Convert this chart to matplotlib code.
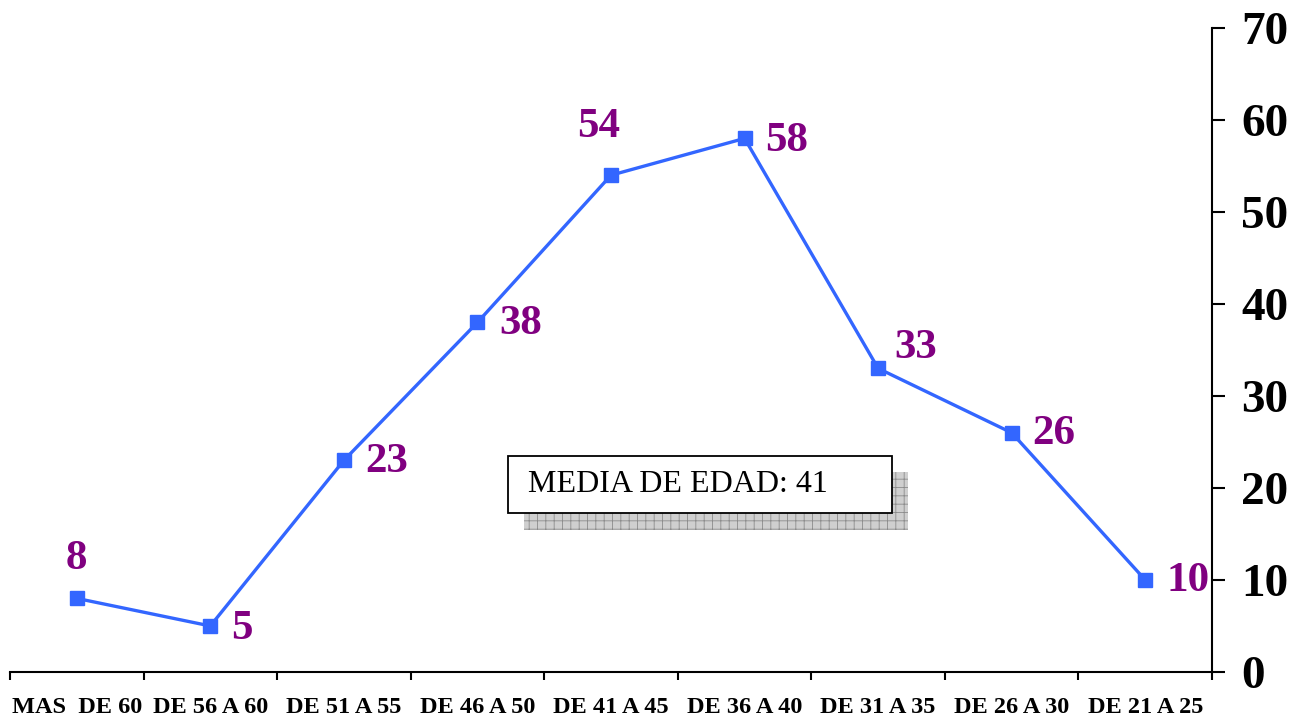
import matplotlib.pyplot as plt
from matplotlib.patches import Rectangle

# age groups and number of people
categories = ['MAS  DE 60', 'DE 56 A 60', 'DE 51 A 55', 'DE 46 A 50', 'DE 41 A 45',
              'DE 36 A 40', 'DE 31 A 35', 'DE 26 A 30', 'DE 21 A 25']
values = [8, 5, 23, 38, 54, 58, 33, 26, 10]
y_ticks = [0, 10, 20, 30, 40, 50, 60, 70]
mean_text = 'MEDIA DE EDAD: 41'

# where each value label goes, in points from its marker
label_offsets = [(0, 28), (23, -2), (31, -1), (31, -1), (-9, 35),
                 (30, -2), (27, 15), (30, -1), (31, -1)]

plt.rcParams['font.family'] = ['Liberation Serif', 'DejaVu Serif']

fig = plt.figure(figsize=(12.93, 7.22), dpi=100)
ax = fig.add_axes([0.0077, 0.0693, 0.9297, 0.8919])

x = list(range(len(categories)))
ax.plot(x, values, color='#3366ff', lw=2.4, marker='s', markersize=9.5, zorder=3)

for xi, v, off in zip(x, values, label_offsets):
    ax.annotate(str(v), (xi, v), xytext=off, textcoords='offset points',
                ha='center', va='center', fontsize=31, fontweight='bold', color='#800080')

ax.set_xlim(-0.5, len(categories) - 0.5)
ax.set_ylim(0, 70)

ax.spines['left'].set_visible(False)
ax.spines['top'].set_visible(False)
ax.spines['right'].set_linewidth(1.5)
ax.spines['bottom'].set_linewidth(1.5)

ax.yaxis.tick_right()
ax.set_yticks(y_ticks)
ax.tick_params(axis='y', direction='out', length=9, width=1.5, pad=12, labelsize=34)
for t in ax.get_yticklabels():
    t.set_fontweight('bold')

ax.set_xticks(x)
ax.set_xticklabels(categories, fontsize=17.5, fontweight='bold')
ax.set_xticks([i - 0.5 for i in range(len(categories) + 1)], minor=True)
ax.tick_params(axis='x', which='major', length=0, pad=18)
ax.tick_params(axis='x', which='minor', direction='out', length=6, width=1.5)

# text box with hatched shadow
plt.rcParams['hatch.linewidth'] = 0.6
shadow = Rectangle((0.428, 0.2205), 0.319, 0.09, transform=ax.transAxes,
                   facecolor='#cfcfcf', edgecolor='#8c8c8c', hatch='++', lw=0, zorder=1)
ax.add_patch(shadow)
box = Rectangle((0.414, 0.247), 0.32, 0.088, transform=ax.transAxes,
                facecolor='white', edgecolor='black', lw=1.3, zorder=2)
ax.add_patch(box)
ax.text(0.431, 0.291, mean_text, transform=ax.transAxes, ha='left', va='center',
        fontsize=23, zorder=4)

fig.savefig('out.png', dpi=100)
